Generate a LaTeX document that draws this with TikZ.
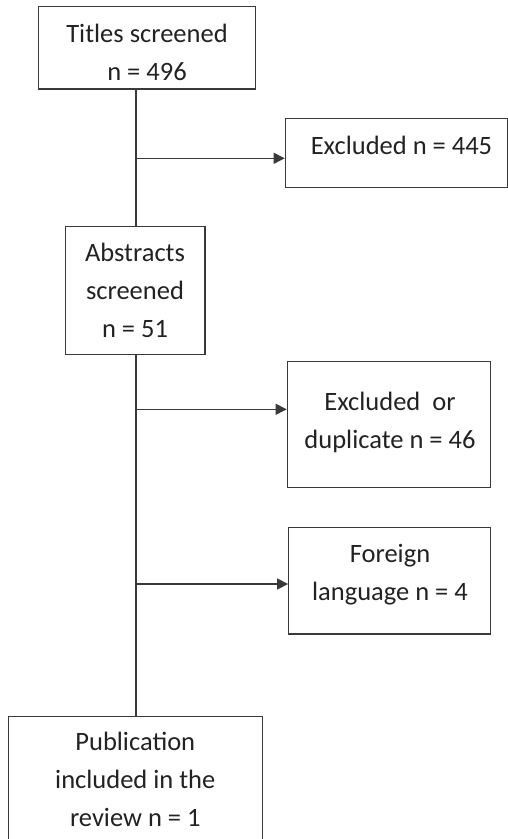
\documentclass[tikz,border=0pt]{standalone}
\usepackage{fontspec}
\setmainfont{Carlito}
\usetikzlibrary{arrows.meta}
\definecolor{linegray}{HTML}{3A3A3A}
\definecolor{textgray}{HTML}{222222}
\begin{document}
\begin{tikzpicture}[x=1pt,y=-1pt,
  box/.style={draw=linegray, line width=1.2pt, inner sep=0pt},
  txt/.style={align=center, inner sep=0pt, anchor=base, text=textgray,
    font=\fontsize{26.5}{38}\selectfont},
  conn/.style={draw=linegray, line width=1.2pt},
  arr/.style={conn, -{Triangle[length=11pt,width=11pt]}}]
\useasboundingbox (0,0) rectangle (508,839);
\clip (0,0) rectangle (508,839);
% boxes
\node[box, minimum width=217pt, minimum height=82.7pt] (b1) at (147.2,47.7) {};
\node[box, minimum width=222pt, minimum height=69pt] (b2) at (396.3,153.2) {};
\node[box, minimum width=139.3pt, minimum height=128pt] (b3) at (135.3,290.7) {};
\node[box, minimum width=203pt, minimum height=126pt] (b4) at (388.8,424.7) {};
\node[box, minimum width=201.6pt, minimum height=106.7pt] (b5) at (389.5,580.7) {};
\node[box, minimum width=254pt, minimum height=140pt] (b6) at (135.3,786.7) {};
% texts (anchored at the baseline of their last line)
\node[txt] (t1) at (147,80) {Titles screened\\n = 496};
\node[txt] (t2) at (401.5,154) {Excluded n = 445};
\node[txt] (t3) at (135,337.3) {Abstracts\\screened\\n = 51};
\node[txt] (t4) at (390,448.3) {Excluded\ \ or\\duplicate n = 46};
\node[txt] (t5) at (390,600) {Foreign\\language n = 4};
\node[txt] (t6) at (135.3,826.7) {Publication\\included in the\\review n = 1};
% connectors
\coordinate (s1) at (136,158.3);
\coordinate (s2) at (136,409.3);
\coordinate (s3) at (136,584);
\draw[conn] (b1.south -| s1) -- (b3.north -| s1);
\draw[conn] (b3.south -| s1) -- (b6.north -| s1);
\draw[arr] (s1) -- (b2.west |- s1);
\draw[arr] (s2) -- (b4.west |- s2);
\draw[arr] (s3) -- (b5.west |- s3);
\end{tikzpicture}
\end{document}
